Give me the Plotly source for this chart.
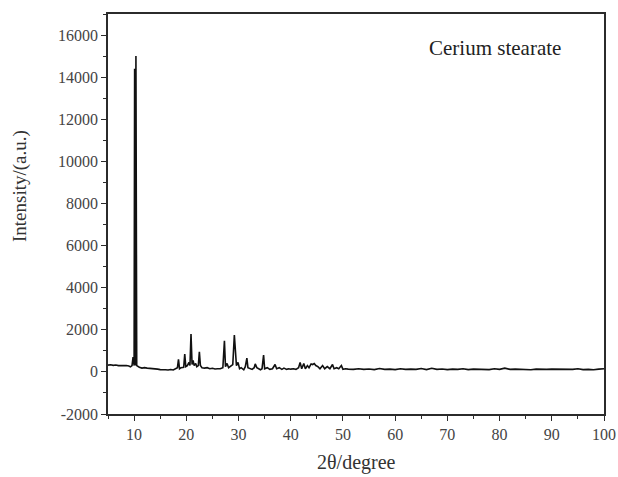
import plotly.graph_objects as go

# 2θ (degree) positions
two_theta = [
    5.0, 5.5, 6.0, 6.5, 7.0, 7.5, 8.0, 8.5, 9.0, 9.3, 9.6, 9.8, 10.0, 10.1, 10.2, 10.35, 10.5, 10.7,
    11.0, 11.5, 12.0, 12.5, 13.0, 13.5, 14.0, 14.5, 15.0, 15.5, 16.0, 16.5, 17.0, 17.5, 18.0, 18.3,
    18.5, 18.7, 19.0, 19.5, 19.7, 19.9, 20.2, 20.5, 20.7, 20.9, 21.1, 21.3, 21.5, 21.8, 22.0, 22.3,
    22.5, 22.7, 23.0, 23.5, 24.0, 24.5, 25.0, 25.5, 26.0, 26.5, 27.0, 27.3, 27.5, 27.8, 28.1, 28.5,
    28.9, 29.2, 29.4, 29.6, 29.9, 30.2, 30.5, 31.0, 31.3, 31.6, 31.8, 32.2, 32.6, 33.0, 33.2, 33.5,
    33.9, 34.2, 34.5, 34.8, 35.0, 35.5, 36.0, 36.5, 37.0, 37.3, 37.8, 38.3, 38.7, 39.2, 39.6, 40.0,
    40.5, 41.0, 41.5, 41.8, 42.1, 42.5, 42.8, 43.2, 43.5, 43.9, 44.2, 44.5, 44.8, 45.2, 45.6, 46.1,
    46.5, 47.0, 47.5, 48.0, 48.3, 48.8, 49.2, 49.7, 50.0, 50.5, 51.0, 52.0, 53.0, 54.0, 55.0, 56.0,
    57.0, 58.0, 59.0, 60.0, 61.0, 62.0, 63.0, 64.0, 65.0, 66.0, 67.0, 68.0, 69.0, 70.0, 71.0, 72.0,
    73.0, 74.0, 75.0, 76.0, 77.0, 78.0, 79.0, 80.0, 81.0, 82.0, 83.0, 84.0, 85.0, 86.0, 87.0, 88.0,
    89.0, 90.0, 91.0, 92.0, 93.0, 94.0, 95.0, 96.0, 97.0, 98.0, 99.0, 100.0,
]

# Intensity (a.u.)
intensity = [
    320, 340, 310, 330, 300, 310, 290, 300, 280, 240, 300, 700, 300, 14400, 300, 15000, 300, 250,
    220, 180, 200, 180, 170, 180, 150, 130, 110, 90, 100, 90, 110, 90, 150, 200,
    600, 150, 200, 220, 850, 250, 300, 450, 300, 1800, 350, 550, 300, 400, 250, 300,
    950, 300, 200, 180, 200, 150, 170, 140, 150, 150, 200, 1480, 250, 400, 200, 300,
    350, 1750, 850, 300, 450, 150, 200, 100, 250, 650, 200, 150, 120, 200, 380, 200,
    150, 100, 150, 800, 150, 200, 120, 150, 350, 150, 200, 120, 180, 120, 150, 130,
    150, 120, 200, 450, 150, 400, 150, 300, 200, 380, 350, 400, 300, 250, 150, 300,
    150, 250, 150, 350, 150, 200, 150, 300, 120, 150, 130, 120, 150, 120, 140, 110,
    160, 120, 130, 110, 150, 120, 130, 120, 160, 110, 170, 120, 140, 110, 130, 120,
    150, 110, 130, 120, 140, 110, 150, 120, 180, 120, 130, 110, 120, 100, 130, 110,
    120, 130, 120, 140, 110, 120, 150, 110, 120, 100, 130, 150,
]

x_ticks = [10, 20, 30, 40, 50, 60, 70, 80, 90, 100]
x_tick_labels = ["10", "20", "30", "40", "50", "60", "70", "80", "90", "100"]
y_ticks = [-2000, 0, 2000, 4000, 6000, 8000, 10000, 12000, 14000, 16000]
y_tick_labels = ["-2000", "0", "2000", "4000", "6000", "8000", "10000", "12000", "14000", "16000"]

font_family = "Liberation Serif, Times New Roman, serif"
ink = "#2b2b2b"

fig = go.Figure()
fig.add_trace(go.Scatter(
    x=two_theta, y=intensity, mode="lines",
    line=dict(color="#111111", width=1.6),
    showlegend=False,
))

axis_common = dict(
    showgrid=False, zeroline=False, showline=True, mirror=True, automargin=False,
    linecolor=ink, linewidth=1.5, ticks="outside", ticklen=5, tickwidth=1.3,
    tickcolor=ink, tickfont=dict(family=font_family, size=16, color="#444"),
)

fig.update_layout(
    width=618, height=477,
    margin=dict(l=108, r=14, t=14, b=63),
    paper_bgcolor="white", plot_bgcolor="white",
    font=dict(family=font_family, color="#333"),
    xaxis=dict(
        range=[5, 100], tickvals=x_ticks, ticktext=x_tick_labels,
        minor=dict(ticks="outside", ticklen=3, tickwidth=1.2, tickcolor=ink, dtick=5, tick0=5),
        **axis_common,
    ),
    yaxis=dict(
        range=[-2000, 17000], tickvals=y_ticks, ticktext=y_tick_labels,
        minor=dict(ticks="outside", ticklen=3, tickwidth=1.2, tickcolor=ink, dtick=1000, tick0=0),
        **axis_common,
    ),
    annotations=[
        dict(
            text="Cerium stearate", x=0.78, y=0.915, xref="paper", yref="paper",
            xanchor="center", yanchor="middle", showarrow=False,
            font=dict(family=font_family, size=21, color="#222"),
        ),
        dict(
            text="2θ/degree", x=0.5, y=0, xref="paper", yref="paper",
            xanchor="center", yanchor="middle", yshift=-48, showarrow=False,
            font=dict(family=font_family, size=20, color="#333"),
        ),
        dict(
            text="Intensity/(a.u.)", x=0, y=0.57, xref="paper", yref="paper",
            xanchor="center", yanchor="middle", xshift=-88, textangle=-90, showarrow=False,
            font=dict(family=font_family, size=19, color="#333"),
        ),
    ],
)

fig.write_html(
    "out.html",
    config={"displayModeBar": False},
    post_script="document.body.style.margin='0px';document.body.style.overflow='hidden';",
)
